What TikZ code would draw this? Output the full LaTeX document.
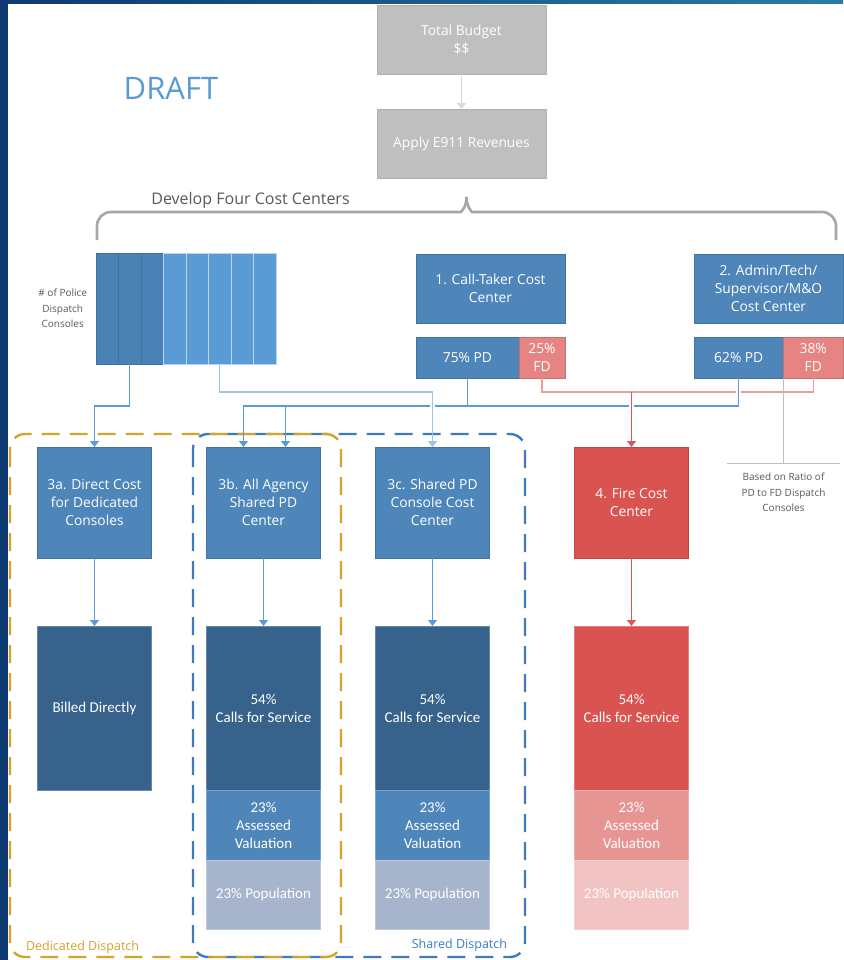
\documentclass[tikz,border=0pt]{standalone}
\usepackage{fontspec}
\setmainfont{Open Sans}
\newfontfamily\calibri{Carlito}
\usetikzlibrary{arrows.meta,positioning,calc}

\definecolor{edgeblue}{HTML}{0E3A72}
\definecolor{edgeteal}{HTML}{2A7BA6}
\definecolor{budgetgray}{HTML}{BFBFBF}
\definecolor{boxblue}{HTML}{4E86BA}
\definecolor{darkblue}{HTML}{36628B}
\definecolor{popblue}{HTML}{A6B5CC}
\definecolor{firered}{HTML}{D95350}
\definecolor{firemid}{HTML}{E69593}
\definecolor{firepop}{HTML}{F2C3C3}
\definecolor{fdpink}{HTML}{E58482}
\definecolor{consdark}{HTML}{4A82B5}
\definecolor{conslight}{HTML}{5B9BD5}
\definecolor{linkblue}{HTML}{5B9BD5}
\definecolor{linklight}{HTML}{9DC3E6}
\definecolor{linkred}{HTML}{DC5654}
\definecolor{linkpink}{HTML}{ED9D9B}
\definecolor{linkgray}{HTML}{D9D9D9}
\definecolor{bracegray}{HTML}{A6A6A6}
\definecolor{textgray}{HTML}{595959}
\definecolor{dedorange}{HTML}{D6A22A}
\definecolor{sharedblue}{HTML}{3E7BBE}

\begin{document}
\begin{tikzpicture}[
    x=1pt, y=-1pt,
    every node/.style={align=center, inner sep=0pt, outer sep=0pt},
    boxtext/.style={font=\fontsize{13.8}{18}\selectfont, text=white},
    graybox/.style={boxtext, rectangle, fill=budgetgray, draw=budgetgray!92!black, minimum width=169pt, minimum height=69pt},
    costbox/.style={boxtext, rectangle, fill=boxblue, draw=boxblue!85!black, minimum width=149pt, minimum height=69pt},
    pdbox/.style={boxtext, rectangle, fill=boxblue, draw=boxblue!85!black, minimum height=41pt},
    fdbox/.style={boxtext, rectangle, fill=fdpink, draw=fdpink!85!black, minimum height=41pt},
    centerbox/.style={boxtext, rectangle, fill=boxblue, draw=boxblue!85!black, minimum width=114pt, minimum height=111pt},
    firebox/.style={centerbox, fill=firered, draw=firered!85!black},
    costpart/.style={rectangle, text=white, font=\calibri\fontsize{15}{18}\selectfont, minimum width=114pt, fill=#1, draw=#1!75!white},
    darkconsole/.style={rectangle, minimum width=22.5pt, minimum height=111pt, fill=consdark, draw=consdark!88!black},
    lightconsole/.style={rectangle, minimum width=22.5pt, minimum height=111pt, fill=conslight, draw=conslight!40!white},
    smallgray/.style={text=textgray, font=\fontsize{10}{15.5}\selectfont},
    bluearrow/.style={draw=linkblue, line width=1.2pt, -{Triangle[length=6pt,width=9pt]}},
    lightarrow/.style={bluearrow, draw=linklight},
    redarrow/.style={draw=linkred, line width=1.3pt, -{Triangle[length=6pt,width=9pt]}},
    grayarrow/.style={draw=linkgray, line width=1.5pt, -{Triangle[length=6pt,width=9pt]}},
    blueline/.style={draw=linkblue, line width=1.2pt},
    pinkline/.style={draw=linkpink, line width=1.3pt},
    grayline/.style={draw=budgetgray, line width=0.9pt},
    halo/.style={preaction={draw=white, line width=5pt, -, shorten <=4pt, shorten >=#1}},
    dedicated/.style={draw=dedorange, line width=2.4pt, dash pattern=on 18pt off 10pt, rounded corners=15pt},
    shared/.style={draw=sharedblue, line width=2.4pt, dash pattern=on 18pt off 10pt, rounded corners=15pt},
    bracestyle/.style={draw=bracegray, line width=2.6pt, rounded corners=14pt}
]
\fill[white] (0,0) rectangle (843,960);
\fill[edgeblue] (0,0) rectangle (8,960);
\shade[left color=edgeblue, right color=edgeteal] (0,0) rectangle (843,4);
\useasboundingbox (0,0) rectangle (843,960);

% dispatch groups
\draw[shared] (193,434) rectangle (525,957);
\draw[dedicated] (10,434) rectangle (341,957);
\node[text=dedorange, font=\fontsize{12.5}{15}\selectfont, anchor=base west] (dedlbl) at (26,950) {Dedicated Dispatch};
\node[text=sharedblue, font=\fontsize{12.5}{15}\selectfont, anchor=base east] (sharedlbl) at (507,948) {Shared Dispatch};

% budget
\node[graybox] (budget) at (461.5,39.5) {Total Budget\\\$\$};
\node[graybox, below=35pt of budget] (e911) {Apply E911 Revenues};
\node[text=linkblue, font=\fontsize{31}{31}\selectfont] (draft) at (171,88) {DRAFT};

\draw[bracestyle] (97,240) -- (97,212) -- (447,212) .. controls (461,212) and (466.5,207) .. (466.5,197);
\draw[bracestyle] (836,240) -- (836,212) -- (486,212) .. controls (472,212) and (466.5,207) .. (466.5,197);
\node[text=textgray, font=\fontsize{16}{18}\selectfont] (develop) at (250.5,200) {Develop Four Cost Centers};

% consoles
\foreach \i in {1,2,3}
    \node[darkconsole] (c\i) at (84.75+22.5*\i,308.5) {};
\foreach \i in {4,...,8}
    \node[lightconsole] (c\i) at (84.75+22.5*\i,308.5) {};
\node[smallgray, left=9pt of c1] (conslbl) {\# of Police\\Dispatch\\Consoles};

% cost centers
\node[costbox] (ct) at (490.5,288.5) {1. Call-Taker Cost\\Center};
\node[pdbox, minimum width=103pt, below right=14pt and 0pt of ct.south west] (ctpd) {75\% PD};
\node[fdbox, minimum width=46pt, right=0pt of ctpd] (ctfd) {25\%\\FD};
\node[costbox] (admin) at (768.5,288.5) {2. Admin/Tech/\\Supervisor/M\&O\\Cost Center};
\node[pdbox, minimum width=89.5pt, below right=14pt and 0pt of admin.south west] (adpd) {62\% PD};
\node[fdbox, minimum width=59.5pt, right=0pt of adpd] (adfd) {38\%\\FD};

\node[centerbox] (d3a) at (94.5,502.5) {3a. Direct Cost\\for Dedicated\\Consoles};
\node[centerbox, right=55pt of d3a] (d3b) {3b. All Agency\\Shared PD\\Center};
\node[centerbox, right=55pt of d3b] (d3c) {3c. Shared PD\\Console Cost\\Center};
\node[firebox, right=85pt of d3c] (fire) {4. Fire Cost\\Center};

\node[smallgray, anchor=north, minimum width=113pt, inner xsep=0pt, inner ysep=10pt] (ratio) at (783.5,463) {Based on Ratio of\\PD to FD Dispatch\\Consoles};

% allocation
\node[costpart=darkblue, minimum height=164.5pt, below=68pt of d3a] (billed) {Billed Directly};
\node[costpart=darkblue, minimum height=164.5pt, below=68pt of d3b] (bcfs) {54\%\\Calls for Service};
\node[costpart=boxblue, minimum height=69.5pt, below=0pt of bcfs] (bav) {23\%\\Assessed\\Valuation};
\node[costpart=popblue, minimum height=69.5pt, below=0pt of bav] (bpop) {23\% Population};
\node[costpart=darkblue, minimum height=164.5pt, below=68pt of d3c] (ccfs) {54\%\\Calls for Service};
\node[costpart=boxblue, minimum height=69.5pt, below=0pt of ccfs] (cav) {23\%\\Assessed\\Valuation};
\node[costpart=popblue, minimum height=69.5pt, below=0pt of cav] (cpop) {23\% Population};
\node[costpart=firered, minimum height=164.5pt, below=68pt of fire] (fcfs) {54\%\\Calls for Service};
\node[costpart=firemid, minimum height=69.5pt, below=0pt of fcfs] (fav) {23\%\\Assessed\\Valuation};
\node[costpart=firepop, minimum height=69.5pt, below=0pt of fav] (fpop) {23\% Population};

% connectors
\coordinate (redjoin) at ($(fire.north)+(0,-55)$);
\coordinate (in1) at ($(d3b.north)+(-20,0)$);
\coordinate (in2) at ($(d3b.north)+(22,0)$);
\draw[pinkline] (ctfd.south) |- (redjoin);
\draw[pinkline] (adfd.south) |- (redjoin);
\draw[blueline, halo=4pt] (adpd.south) -- ++(0,28) coordinate (adjoin);
\draw[bluearrow] (adjoin) -| (in1);
\draw[bluearrow] (ctpd.south) -- ++(0,28) -| (in2);
\draw[bluearrow] (c2.south) -- ++(0,42) -| (d3a.north);
\draw[lightarrow, halo=38pt] (c6.south) -- ++(0,28) -| (d3c.north);
\draw[redarrow, halo=30pt] (redjoin) -- (fire.north);
\draw[grayarrow] (budget) -- (e911);
\draw[grayline] (adpd.south east) -- (ratio.north);
\draw[grayline] (ratio.north west) -- (ratio.north east);

\draw[bluearrow] (d3a) -- (billed);
\draw[bluearrow] (d3b) -- (bcfs);
\draw[bluearrow] (d3c) -- (ccfs);
\draw[redarrow] (fire) -- (fcfs);
\end{tikzpicture}
\end{document}
